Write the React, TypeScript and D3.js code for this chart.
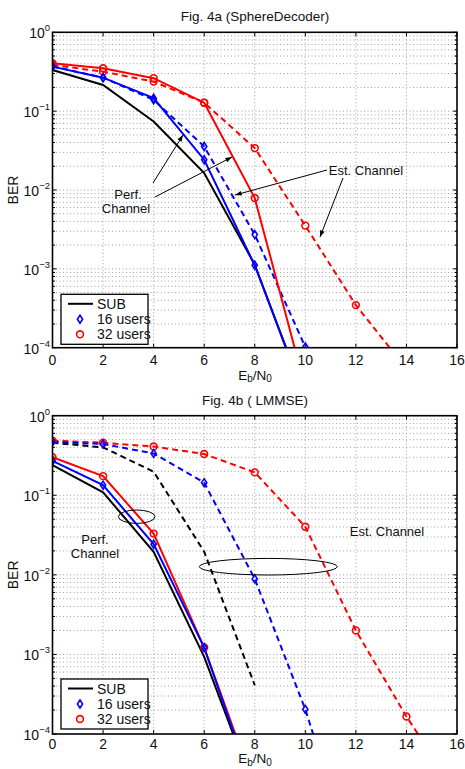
import React from 'react';
import * as d3 from 'd3';

// E_b/N_0 points (dB)
const ebn0 = [0, 2, 4, 6, 8, 10, 12, 14, 16];
const xTicks = [0, 2, 4, 6, 8, 10, 12, 14, 16];
const yTicks = [1, 0.1, 0.01, 0.001, 0.0001];
const yTickExp = ['0', '\u22121', '\u22122', '\u22123', '\u22124'];

// Fig. 4a (SphereDecoder) BER values
const sdSub = [0.333, 0.215, 0.074, 0.0164, 0.00113, 2.2e-5];
const sd16Perf = [0.367, 0.266, 0.146, 0.0242, 0.00111, 2.3e-5];
const sd16Est = [0.37, 0.266, 0.139, 0.0356, 0.00272, 1.02e-4];
const sd32Perf = [0.405, 0.35, 0.262, 0.128, 0.0079, 3.1e-5];
const sd32Est = [0.385, 0.317, 0.237, 0.128, 0.034, 0.00353, 0.000347, 5.4e-5];

// Fig. 4b (LMMSE) BER values
const lmSub = [0.24, 0.109, 0.0195, 0.00093, 1.9e-5];
const lm16Perf = [0.27, 0.134, 0.0243, 0.00122, 1.8e-5];
const lm32Perf = [0.3, 0.174, 0.033, 0.00122, 2.1e-5];
const lmSubEst = [0.457, 0.4, 0.198, 0.0195, 0.00041];
const lm16Est = [0.47, 0.44, 0.336, 0.144, 0.0089, 0.000204, 2e-6];
const lm32Est = [0.485, 0.457, 0.41, 0.33, 0.194, 0.0402, 0.002, 0.000166, 1.8e-5];

type Series = { values: number[]; color: string; dashed: boolean; marker: 'none' | 'diamond' | 'circle' };

const font = '"Liberation Sans", Arial, Helvetica, sans-serif';

const L = 52.5;
const R = 457;

function Marker({ kind, x, y, color }: { kind: string; x: number; y: number; color: string }) {
  if (kind === 'circle') return <circle cx={x} cy={y} r={3.4} fill="none" stroke={color} strokeWidth={1.6} />;
  if (kind === 'diamond')
    return (
      <path
        d={`M${x},${y - 4}L${x + 2.6},${y}L${x},${y + 4}L${x - 2.6},${y}Z`}
        fill="none"
        stroke={color}
        strokeWidth={1.6}
      />
    );
  return null;
}

function Panel({ top, bottom, title, series, id, children, legendTop, xLabelDy, tickDy }: any) {
  const x = d3.scaleLinear().domain([0, 16]).range([L, R]);
  const y = d3.scaleLog().domain([1e-4, 1]).range([bottom, top]);
  const line = d3
    .line<number>()
    .x((_, i) => x(ebn0[i]))
    .y((d) => y(d));

  const minor: number[] = [];
  [1e-4, 1e-3, 1e-2, 1e-1].forEach((p) => {
    for (let k = 2; k <= 9; k++) minor.push(p * k);
  });

  return (
    <g>
      <defs>
        <clipPath id={id}>
          <rect x={L} y={top} width={R - L} height={bottom - top} />
        </clipPath>
      </defs>
      <rect x={L} y={top} width={R - L} height={bottom - top} fill="white" />
      {/* grid */}
      <g stroke="#8a8a8a" strokeWidth={0.8} strokeDasharray="1,2.5">
        {xTicks.slice(1, -1).map((t) => (
          <line key={'gx' + t} x1={x(t)} x2={x(t)} y1={top} y2={bottom} />
        ))}
        {minor.concat(yTicks.slice(1, -1)).map((t) => (
          <line key={'gy' + t} x1={L} x2={R} y1={y(t)} y2={y(t)} />
        ))}
      </g>
      {/* ticks */}
      <g stroke="black" strokeWidth={1}>
        {xTicks.map((t) => (
          <g key={'tx' + t}>
            <line x1={x(t)} x2={x(t)} y1={bottom} y2={bottom - 4} />
            <line x1={x(t)} x2={x(t)} y1={top} y2={top + 4} />
          </g>
        ))}
        {yTicks.map((t) => (
          <g key={'ty' + t}>
            <line x1={L} x2={L + 4} y1={y(t)} y2={y(t)} />
            <line x1={R} x2={R - 4} y1={y(t)} y2={y(t)} />
          </g>
        ))}
        {minor.map((t) => (
          <g key={'tm' + t}>
            <line x1={L} x2={L + 2.5} y1={y(t)} y2={y(t)} />
            <line x1={R} x2={R - 2.5} y1={y(t)} y2={y(t)} />
          </g>
        ))}
      </g>
      {/* data */}
      <g clipPath={`url(#${id})`}>
        {series.map((s: Series, i: number) => (
          <path
            key={'s' + i}
            d={line(s.values) || ''}
            fill="none"
            stroke={s.color}
            strokeWidth={2}
            strokeDasharray={s.dashed ? '6,4' : undefined}
          />
        ))}
        {series.map((s: Series, i: number) =>
          s.values.map((v, j) =>
            v >= 0.95e-4 ? <Marker key={`m${i}-${j}`} kind={s.marker} x={x(ebn0[j])} y={y(v)} color={s.color} /> : null
          )
        )}
      </g>
      {children}
      {/* frame */}
      <rect x={L} y={top} width={R - L} height={bottom - top} fill="none" stroke="black" strokeWidth={1.6} />
      {/* tick labels */}
      <g fontFamily={font} fontSize={14} fill="#111">
        {xTicks.map((t) => (
          <text key={'lx' + t} x={x(t)} y={bottom + tickDy} textAnchor="middle">
            {t}
          </text>
        ))}
        {yTicks.map((t, i) => (
          <text key={'ly' + t} x={50} y={y(t) + 6} textAnchor="end">
            10
            <tspan dy={-7} fontSize={9.5}>
              {yTickExp[i]}
            </tspan>
          </text>
        ))}
      </g>
      <text x={255} y={top - 11} fontFamily={font} fontSize={13.5} textAnchor="middle" fill="#111">
        {title}
      </text>
      <text x={255} y={bottom + xLabelDy} fontFamily={font} fontSize={13.5} textAnchor="middle" fill="#111">
        E
        <tspan dy={2.5} fontSize={10}>b</tspan>
        <tspan dy={-2.5}>/N</tspan>
        <tspan dy={2.5} fontSize={10}>0</tspan>
      </text>
      <text
        transform={`translate(18,${(top + bottom) / 2}) rotate(-90)`}
        fontFamily={font}
        fontSize={14}
        textAnchor="middle"
        fill="#111"
      >
        BER
      </text>
      {/* legend */}
      <g fontFamily={font} fontSize={14} fill="#111">
        <rect x={61} y={legendTop} width={87} height={50} fill="white" stroke="black" strokeWidth={1.3} />
        <line x1={68} x2={93} y1={legendTop + 9.5} y2={legendTop + 9.5} stroke="black" strokeWidth={2} />
        <text x={97} y={legendTop + 14.5}>SUB</text>
        <Marker kind="diamond" x={80} y={legendTop + 25} color="blue" />
        <text x={97} y={legendTop + 30}>16 users</text>
        <Marker kind="circle" x={80} y={legendTop + 40} color="red" />
        <text x={97} y={legendTop + 45}>32 users</text>
      </g>
    </g>
  );
}

function Arrow({ x1, y1, x2, y2 }: { x1: number; y1: number; x2: number; y2: number }) {
  const a = Math.atan2(y2 - y1, x2 - x1);
  const h = 7;
  const w = 0.35;
  const p1 = [x2 - h * Math.cos(a - w), y2 - h * Math.sin(a - w)];
  const p2 = [x2 - h * Math.cos(a + w), y2 - h * Math.sin(a + w)];
  return (
    <g>
      <line x1={x1} y1={y1} x2={x2} y2={y2} stroke="black" strokeWidth={1} />
      <path d={`M${x2},${y2}L${p1[0]},${p1[1]}L${p2[0]},${p2[1]}Z`} fill="black" />
    </g>
  );
}

export default function App() {
  const topSeries: Series[] = [
    { values: sdSub, color: 'black', dashed: false, marker: 'none' },
    { values: sd32Est, color: 'red', dashed: true, marker: 'circle' },
    { values: sd16Est, color: 'blue', dashed: true, marker: 'diamond' },
    { values: sd32Perf, color: 'red', dashed: false, marker: 'circle' },
    { values: sd16Perf, color: 'blue', dashed: false, marker: 'diamond' },
  ];
  const bottomSeries: Series[] = [
    { values: lmSubEst, color: 'black', dashed: true, marker: 'none' },
    { values: lm32Est, color: 'red', dashed: true, marker: 'circle' },
    { values: lm16Est, color: 'blue', dashed: true, marker: 'diamond' },
    { values: lmSub, color: 'black', dashed: false, marker: 'none' },
    { values: lm32Perf, color: 'red', dashed: false, marker: 'circle' },
    { values: lm16Perf, color: 'blue', dashed: false, marker: 'diamond' },
  ];
  const txt = { fontFamily: font, fontSize: 13, fill: '#111', textAnchor: 'middle' as const };
  return (
    <svg width={465} height={769} style={{ position: 'absolute', left: 0, top: 0, background: 'white' }}>
      <rect width={465} height={769} fill="white" />
      <Panel
        top={32.3}
        bottom={347.7}
        title="Fig. 4a (SphereDecoder)"
        series={topSeries}
        id="clipA"
        legendTop={294.3}
        xLabelDy={32}
        tickDy={17}
      >
        <Arrow x1={153} y1={183} x2={183} y2={135} />
        <Arrow x1={155} y1={197} x2={232} y2={157} />
        <text x={128} y={199} {...txt}>Perf.</text>
        <text x={126} y={213} {...txt}>Channel</text>
        <Arrow x1={327} y1={170} x2={235} y2={195} />
        <Arrow x1={343} y1={178} x2={320} y2={237} />
        <text x={366} y={175} {...txt}>Est. Channel</text>
      </Panel>
      <Panel
        top={415.7}
        bottom={734}
        title="Fig. 4b ( LMMSE)"
        series={bottomSeries}
        id="clipB"
        legendTop={679}
        xLabelDy={29}
        tickDy={14.5}
      >
        <ellipse cx={136.7} cy={516.7} rx={18.3} ry={6.7} fill="none" stroke="black" strokeWidth={1} />
        <text x={95} y={544} {...txt}>Perf.</text>
        <text x={95} y={558} {...txt}>Channel</text>
        <ellipse cx={268.3} cy={566.7} rx={69} ry={8.3} fill="none" stroke="black" strokeWidth={1} />
        <text x={387} y={536} {...txt}>Est. Channel</text>
      </Panel>
    </svg>
  );
}
